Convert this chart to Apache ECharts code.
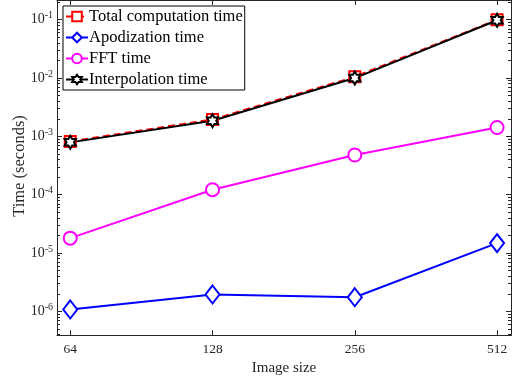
<!DOCTYPE html>
<html>
<head>
<meta charset="utf-8">
<script src="https://cdn.jsdelivr.net/npm/echarts@6/dist/echarts.min.js"></script>
<style>
  html, body { margin: 0; padding: 0; background: #fff; }
  #main { width: 516px; height: 381px; }
</style>
</head>
<body>
<div id="main"></div>
<script>
// image sizes (x axis, log2)
var sizes = [64, 128, 256, 512];
// times in seconds
var totalTime  = [8.2e-4, 1.95e-3, 1.05e-2, 0.100];
var apodTime   = [1.08e-6, 1.95e-6, 1.75e-6, 1.48e-5];
var fftTime    = [1.8e-5, 1.22e-4, 4.8e-4, 1.42e-3];
var interpTime = [7.9e-4, 1.85e-3, 1.0e-2, 0.098];
var decades = [1e-6, 1e-5, 1e-4, 1e-3, 1e-2, 1e-1];

var yMin = 3.92e-7, yMax = 0.218;
var txt = '#262626';
var serif = 'Liberation Serif';

// minor ticks 2..9 x 10^n
var minorTicks = [];
for (var n = -7; n <= -1; n++) {
    for (var k = 2; k <= 9; k++) {
        var v = k * Math.pow(10, n);
        if (v > yMin && v < yMax) minorTicks.push(v);
    }
}

function pairs(vals) {
    var out = [];
    for (var i = 0; i < sizes.length; i++) out.push([sizes[i], vals[i]]);
    return out;
}

var hexagram = 'path://M0,-10 L2.89,-5 L8.66,-5 L5.77,0 L8.66,5 L2.89,5 L0,10 L-2.89,5 L-8.66,5 L-5.77,0 L-8.66,-5 L-2.89,-5 Z';

function yAx(pos, ticks, len, labels) {
    return {
        type: 'log', position: pos, min: yMin, max: yMax,
        axisLine: { show: true, lineStyle: { color: txt, width: 1 } },
        splitLine: { show: false },
        axisTick: { show: true, inside: true, length: len, customValues: ticks, lineStyle: { color: txt } },
        axisLabel: labels ? {
            show: true, customValues: decades, margin: 4,
            fontFamily: serif, fontSize: 14, color: txt,
            formatter: function (v) { return '10{sup|' + Math.round(Math.log10(v)) + '}'; },
            rich: { sup: { fontSize: 10, fontFamily: serif, color: txt, verticalAlign: 'top', padding: [0, 0, 8, 0] } }
        } : { show: false }
    };
}

var chart = echarts.init(document.getElementById('main'));
var option = {
    animation: false,
    backgroundColor: '#fff',
    grid: { left: 57, right: 5, top: -2, bottom: 45 },
    legend: {
        orient: 'vertical', left: 63, top: 6,
        backgroundColor: '#fff', borderColor: '#000', borderWidth: 1,
        padding: [2, 2, 2, 2],
        itemWidth: 22, itemHeight: 12, itemGap: 4,
        textStyle: { fontFamily: serif, fontSize: 16.5, color: '#000', padding: [0, 0, 0, -4] },
        data: ['Total computation time', 'Apodization time', 'FFT time', 'Interpolation time']
    },
    xAxis: [{
        type: 'log', logBase: 2, min: 60, max: 548, position: 'bottom',
        name: 'Image size', nameLocation: 'middle', nameGap: 25,
        nameTextStyle: { fontFamily: serif, fontSize: 15, color: txt },
        axisLine: { show: true, lineStyle: { color: txt } },
        splitLine: { show: false },
        axisTick: { show: true, inside: true, length: 5, customValues: sizes, lineStyle: { color: txt } },
        axisLabel: { show: true, customValues: sizes, fontFamily: serif, fontSize: 13.5, color: txt, margin: 7 }
    }, {
        type: 'log', logBase: 2, min: 60, max: 548, position: 'top',
        axisLine: { show: true, lineStyle: { color: txt } },
        splitLine: { show: false },
        axisTick: { show: true, inside: true, length: 5, customValues: sizes, lineStyle: { color: txt } },
        axisLabel: { show: false }
    }],
    yAxis: [
        yAx('left', decades, 5, true),
        yAx('left', minorTicks, 3, false),
        yAx('right', decades, 5, false),
        yAx('right', minorTicks, 3, false)
    ],
    series: [{
        name: 'Total computation time', type: 'line', data: pairs(totalTime),
        symbol: 'rect', symbolSize: 11, itemStyle: { color: '#fff', borderColor: '#ff0000', borderWidth: 2 },
        lineStyle: { color: '#ff0000', width: 2, type: [7, 4] }, color: '#ff0000'
    }, {
        name: 'Apodization time', type: 'line', data: pairs(apodTime),
        symbol: 'diamond', symbolSize: [14, 18], itemStyle: { color: '#fff', borderColor: '#0000ff', borderWidth: 2 },
        lineStyle: { color: '#0000ff', width: 2 }, color: '#0000ff'
    }, {
        name: 'FFT time', type: 'line', data: pairs(fftTime),
        symbol: 'circle', symbolSize: 13, itemStyle: { color: '#fff', borderColor: '#ff00ff', borderWidth: 2 },
        lineStyle: { color: '#ff00ff', width: 2 }, color: '#ff00ff'
    }, {
        name: 'Interpolation time', type: 'line', data: pairs(interpTime),
        symbol: hexagram, symbolSize: 13, symbolKeepAspect: true,
        itemStyle: { color: '#fff', borderColor: '#000', borderWidth: 2 },
        lineStyle: { color: '#000', width: 2 }, color: '#000'
    }],
    graphic: [{
        type: 'text', rotation: Math.PI / 2, x: 20, y: 166,
        style: { text: 'Time (seconds)', fontFamily: serif, fontSize: 16.5, fill: txt, align: 'center', verticalAlign: 'middle' }
    }]
};
chart.setOption(option);
</script>
</body>
</html>
